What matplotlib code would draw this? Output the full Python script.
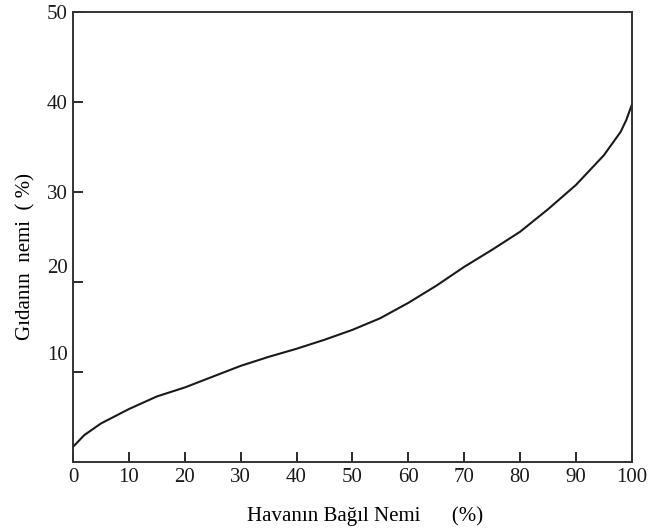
import matplotlib
matplotlib.use("Agg")
import matplotlib.pyplot as plt
import matplotlib.transforms as mtransforms

# relative humidity of air (%) vs moisture content of food (%)
air_rh = [0, 2, 5, 10, 15, 20, 25, 30, 35, 40, 45, 50, 55, 60, 65, 70, 75, 80, 85, 90, 95, 98, 99, 100]
food_moisture = [1.7, 3.0, 4.3, 5.9, 7.3, 8.3, 9.5, 10.7, 11.7, 12.6, 13.6, 14.7, 16.0, 17.7, 19.6, 21.7, 23.6, 25.6, 28.1, 30.8, 34.1, 36.7, 38.0, 39.7]

x_ticks = [0, 10, 20, 30, 40, 50, 60, 70, 80, 90, 100]
y_ticks = [10, 20, 30, 40, 50]

plt.rcParams['font.family'] = ['Liberation Serif', 'DejaVu Serif']

fig = plt.figure(figsize=(6.52, 5.3), dpi=100)
ax = fig.add_axes([0.112, 0.128, 0.857, 0.849])

ax.plot(air_rh, food_moisture, color='#1a1a1a', linewidth=1.5)

ax.set_xlim(0, 100)
ax.set_ylim(0, 50)
ax.set_xticks(x_ticks)
ax.set_yticks(y_ticks)
ax.tick_params(direction='in', length=7, width=1.3, labelsize=15, colors='#1a1a1a', pad=4)

for s in ax.spines.values():
    s.set_linewidth(1.4)
    s.set_color('#333333')

# in the original the lower y labels sit above their ticks
shifts = {10: 14, 20: 11.5}
for val, lab in zip(y_ticks, ax.get_yticklabels()):
    if val in shifts:
        off = mtransforms.ScaledTranslation(0, shifts[val] / 72, fig.dpi_scale_trans)
        lab.set_transform(lab.get_transform() + off)

ax.set_xlabel("Havanın Bağıl Nemi      (%)", fontsize=15)
ax.set_ylabel("Gıdanın  nemi  ( %)", fontsize=15)
ax.xaxis.set_label_coords(0.522, -0.098)
ax.yaxis.set_label_coords(-0.068, 0.458)

fig.savefig("out.png", dpi=100)
